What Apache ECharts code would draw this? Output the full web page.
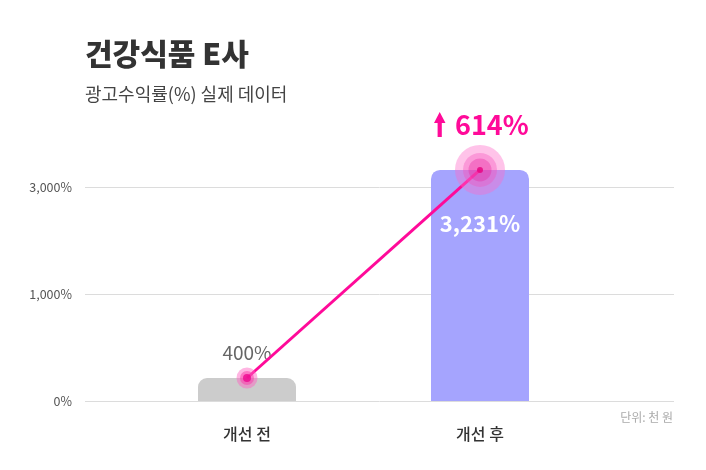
<!DOCTYPE html>
<html>
<head>
<meta charset="utf-8">
<script src="https://cdn.jsdelivr.net/npm/echarts@6/dist/echarts.min.js"></script>
<style>
  html, body { margin: 0; padding: 0; background: #fff; }
  #chart { width: 706px; height: 470px; }
</style>
</head>
<body>
<div id="chart"></div>
<script>
const categories = ['개선 전', '개선 후']
const barLevels = [0.215, 2.16]
const barLabels = ['400%', '3,231%']
const tickLabels = ['0%', '1,000%', '3,000%']
const growthLabel = '614%'

const FONT = '"Noto Sans CJK KR", "Noto Sans", sans-serif'
const PINK = '#ff0a99'

const chart = echarts.init(document.getElementById('chart'))

// halo rings per point: [size, color]
const halos = [
  [[21, 'rgba(255,100,195,0.6)'], [14, 'rgba(250,60,170,0.65)'], [8, '#ee0890']],
  [[50, 'rgba(255,105,200,0.5)'], [34, 'rgba(245,80,185,0.45)'], [23, 'rgba(230,40,160,0.45)'], [6, '#e8007f']]
]
const haloSeries = []
for (let r = 0; r < 4; r++) {
  haloSeries.push({
    type: 'scatter',
    xAxisIndex: 1,
    yAxisIndex: 1,
    silent: true,
    z: 5 + r,
    data: barLevels.map((v, i) => {
      const h = halos[i][r]
      if (!h) return null
      return { value: [i, v], symbolSize: h[0], itemStyle: { color: h[1] } }
    }).filter(d => d)
  })
}

chart.setOption({
  animation: false,
  title: {
    text: '건강식품 E사',
    subtext: '광고수익률(%) 실제 데이터',
    left: 80,
    top: 34,
    itemGap: 16,
    textStyle: { fontFamily: FONT, fontSize: 30, fontWeight: 900, color: '#333' },
    subtextStyle: { fontFamily: FONT, fontSize: 18, color: '#444' }
  },
  grid: [
    { left: 85, right: 32, top: 80, bottom: 69 },
    { left: 130.5, right: 109.5, top: 80, bottom: 69 }
  ],
  xAxis: [
    { type: 'value', gridIndex: 0, show: false, min: 0, max: 1 },
    {
      type: 'category',
      gridIndex: 1,
      data: categories,
      axisLine: { show: false },
      axisTick: { show: false },
      axisLabel: { margin: 25, fontFamily: FONT, fontSize: 16, fontWeight: 500, color: '#333' }
    }
  ],
  yAxis: [
    {
      type: 'value',
      gridIndex: 0,
      min: 0,
      max: 3,
      interval: 1,
      axisLine: { show: false },
      axisTick: { show: false },
      axisLabel: {
        margin: 13,
        fontFamily: FONT,
        fontSize: 12.5,
        color: '#555',
        formatter: (v) => tickLabels[v] || ''
      },
      splitLine: { lineStyle: { color: ['#dcdcdc', '#dcdcdc', '#dcdcdc', 'rgba(0,0,0,0)'] } }
    },
    { type: 'value', gridIndex: 1, min: 0, max: 3, show: false }
  ],
  series: [
    {
      type: 'bar',
      xAxisIndex: 1,
      yAxisIndex: 1,
      barWidth: 98,
      silent: true,
      data: barLevels.map((v, i) => ({
        value: v,
        itemStyle: { color: i === 0 ? '#cccccc' : '#a5a4fe', borderRadius: [9, 9, 0, 0] },
        label: i === 0
          ? { show: true, position: 'top', distance: 16, fontFamily: FONT, fontSize: 19, color: '#666', formatter: barLabels[i] }
          : { show: true, position: 'insideTop', distance: 43, fontFamily: FONT, fontSize: 22, fontWeight: 'bold', color: '#fff', formatter: barLabels[i] }
      }))
    },
    {
      type: 'line',
      xAxisIndex: 1,
      yAxisIndex: 1,
      silent: true,
      symbol: 'none',
      z: 4,
      lineStyle: { color: PINK, width: 3 },
      data: barLevels
    },
    ...haloSeries
  ],
  graphic: [
    {
      type: 'polygon',
      shape: {
        points: [[439.7, 112], [445.5, 123], [441.8, 123], [441.8, 137], [437.6, 137], [437.6, 123], [434, 123]]
      },
      style: { fill: PINK }
    },
    {
      type: 'text',
      left: 455,
      top: 111,
      style: { text: growthLabel, font: 'bold 27px ' + FONT, fill: PINK }
    },
    {
      type: 'text',
      right: 33,
      top: 411,
      style: { text: '단위: 천 원', font: '12px ' + FONT, fill: '#aaa' }
    }
  ]
})
</script>
</body>
</html>
